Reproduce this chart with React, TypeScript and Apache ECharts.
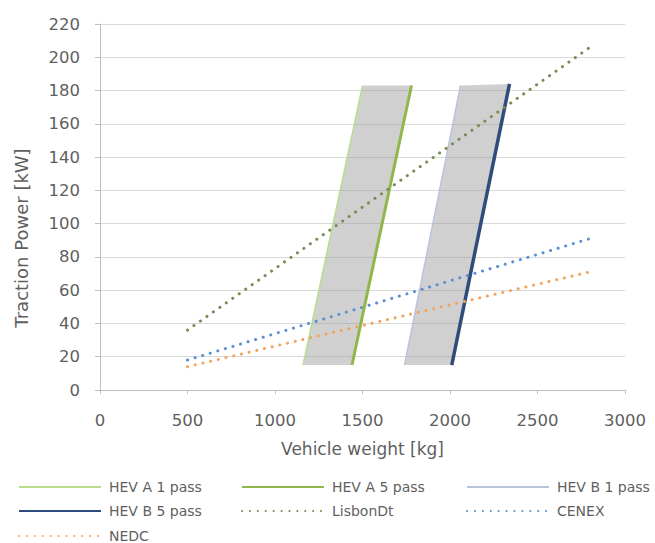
import React, { useEffect, useRef } from "react";
import * as echarts from "echarts";

// Endpoints of each characteristic: [vehicle weight kg, traction power kW]
const hevA1Pass = [[1160, 15], [1500, 183]];
const hevA5Pass = [[1440, 15], [1780, 183]];
const hevB1Pass = [[1740, 15], [2060, 183]];
const hevB5Pass = [[2010, 15], [2340, 184]];
const lisbonDt = [[500, 36], [2800, 206]];
const cenex = [[500, 18], [2800, 91]];
const nedc = [[500, 14], [2800, 71]];

// Shaded corridors between the 1-pass and 5-pass lines
const bands = [
  [hevA1Pass, hevA5Pass],
  [hevB1Pass, hevB5Pass],
];

// Legend layout: [series name, column, row]
const legendItems: [string, number, number][] = [
  ["HEV A 1 pass", 0, 0],
  ["HEV A 5 pass", 1, 0],
  ["HEV B 1 pass", 2, 0],
  ["HEV B 5 pass", 0, 1],
  ["LisbonDt", 1, 1],
  ["CENEX", 2, 1],
  ["NEDC", 0, 2],
];
const legendCols = [18, 241, 466];
const legendRows = [480, 504, 529];

const FONT = "'DejaVu Sans', sans-serif";
const TEXT = "#5f5f5f";

export default function App() {
  const ref = useRef<HTMLDivElement>(null);

  useEffect(() => {
    document.body.style.margin = "0";
    if (!ref.current) return;
    const chart = echarts.init(ref.current, null, { renderer: "svg" });

    const solid = (name: string, data: number[][], color: string, width: number) => ({
      name,
      type: "line",
      data,
      symbol: "none",
      z: 3,
      lineStyle: { color, width, type: "solid" },
      itemStyle: { color },
    });
    const dotted = (name: string, data: number[][], color: string) => ({
      name,
      type: "line",
      data,
      symbol: "none",
      z: 4,
      lineStyle: { color, width: 3, type: [0.1, 7.8], cap: "round" },
      itemStyle: { color },
    });

    chart.setOption({
      animation: false,
      backgroundColor: "#ffffff",
      textStyle: { fontFamily: FONT },
      grid: { left: 100, right: 30, top: 24, bottom: 153 },
      xAxis: {
        type: "value",
        min: 0,
        max: 3000,
        interval: 500,
        name: "Vehicle weight [kg]",
        nameLocation: "middle",
        nameGap: 50,
        nameTextStyle: { fontFamily: FONT, fontSize: 17, color: TEXT },
        axisLine: { show: true, lineStyle: { color: "#bfbfbf", width: 1 } },
        axisTick: { show: true, length: 4, lineStyle: { color: "#bfbfbf" } },
        axisLabel: {
          fontFamily: FONT,
          fontSize: 16.5,
          color: TEXT,
          margin: 22,
          formatter: (v: number) => String(v),
        },
        splitLine: { show: false },
      },
      yAxis: {
        type: "value",
        min: 0,
        max: 220,
        interval: 20,
        name: "Traction Power [kW]",
        nameLocation: "middle",
        nameGap: 70,
        nameTextStyle: {
          fontFamily: FONT,
          fontSize: 18,
          color: TEXT,
          padding: [0, 62, 0, 0],
        },
        axisLine: { show: true, lineStyle: { color: "#bfbfbf", width: 1 } },
        axisTick: { show: true, length: 5, lineStyle: { color: "#bfbfbf" } },
        axisLabel: { fontFamily: FONT, fontSize: 16.5, color: TEXT, margin: 20 },
        splitLine: { show: true, lineStyle: { color: "#d9d9d9", width: 1 } },
      },
      legend: legendItems.map(([name, col, row]) => ({
        left: legendCols[col],
        top: legendRows[row],
        padding: 0,
        itemWidth: 82,
        itemHeight: 14,
        data: [name],
        itemStyle: { opacity: 0, borderWidth: 0 },
        textStyle: { fontFamily: FONT, fontSize: 14, color: TEXT, padding: [0, 0, 0, 3] },
      })),
      series: [
        {
          type: "custom",
          name: "bands",
          silent: true,
          z: 1,
          data: bands.map((_, i) => [i]),
          encode: { x: 0 },
          renderItem: (_params: any, api: any) => {
            const [left, right] = bands[api.value(0)];
            const pts = [left[0], left[1], right[1], right[0]].map((p) => api.coord(p));
            return {
              type: "polygon",
              shape: { points: pts },
              style: { fill: "rgba(150,150,150,0.45)", stroke: "none" },
            };
          },
        },
        solid("HEV A 1 pass", hevA1Pass, "#b9dc8f", 1.5),
        solid("HEV A 5 pass", hevA5Pass, "#8fb74b", 3),
        solid("HEV B 1 pass", hevB1Pass, "#b8c4dc", 1.5),
        solid("HEV B 5 pass", hevB5Pass, "#2f4d7c", 3.5),
        dotted("LisbonDt", lisbonDt, "#7d8a55"),
        dotted("CENEX", cenex, "#5a8fd2"),
        dotted("NEDC", nedc, "#f4a35c"),
      ],
    });

    return () => chart.dispose();
  }, []);

  return <div ref={ref} style={{ width: 655, height: 543 }} />;
}
